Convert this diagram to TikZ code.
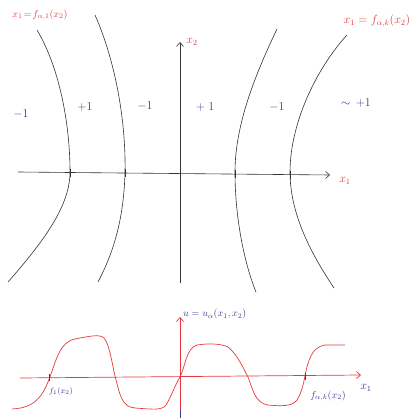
\documentclass[tikz,border=0pt]{standalone}
\usetikzlibrary{arrows.meta}
\definecolor{penred}{HTML}{E8383D}
\definecolor{penblue}{HTML}{3C3C8E}
\definecolor{pengray}{HTML}{333333}
\tikzset{
  blackline/.style={pengray, line width=0.6pt},
  redline/.style={penred, line width=0.7pt},
  redlbl/.style={penred, inner sep=0pt, font=\large},
  bluelbl/.style={penblue, inner sep=0pt, font=\large},
  tickmark/.style={penblue, line width=1pt},
  axarrow/.style={-{Straight Barb[length=4pt,width=7pt]}},
}
\begin{document}
\begin{tikzpicture}[x=1pt,y=-1pt]
\useasboundingbox (0,0) rectangle (416,419);
% ---------- upper diagram ----------
\draw[blackline] (37,30) .. controls (58,65) and (70,120) .. (70,172) .. controls (70,205) and (45,240) .. (8,282);
\draw[blackline] (95,15) .. controls (115,60) and (126,120) .. (125,172) .. controls (124,215) and (115,250) .. (98,282);
\draw[blackline] (277,29) .. controls (255,75) and (235,125) .. (235,172) .. controls (235,220) and (245,265) .. (256,292);
\draw[blackline] (347,35) .. controls (315,70) and (290,125) .. (290,172) .. controls (290,215) and (312,255) .. (334,288);
% axes
\coordinate (x1s) at (18,172);
\coordinate (x1e) at (330,175);
\coordinate (x2s) at (180,283);
\coordinate (x2e) at (180,42);
\draw[blackline,axarrow] (x1s) -- (x1e);
\draw[blackline,axarrow] (x2s) -- (x2e);
\node[redlbl] (lx1) at (345,181) {$x_1$};
\node[redlbl] (lx2) at (192,42) {$x_2$};
% ticks at crossings
\foreach \xx/\yy in {70/172.6,125/173.2,235/174.4,290/175.0}
  \draw[blackline,line width=0.9pt] (\xx,\yy-4) -- (\xx,\yy+4);
% region signs
\node[bluelbl] (r1) at (21,114) {$-1$};
\node[bluelbl] (r2) at (85,107) {$+1$};
\node[bluelbl] (r3) at (145,106) {$-1$};
\node[bluelbl] (r4) at (205,107) {$+\;1$};
\node[bluelbl] (r5) at (277,107) {$-1$};
\node[bluelbl] (r6) at (356,103) {$\sim\,+1$};
% top labels
\node[redlbl,font=\normalsize] (t1) at (40,15) {$x_1\!=\!f_{\alpha,1}(x_2)$};
\node[redlbl] (t2) at (377,21) {$x_1 = f_{\alpha,k}(x_2)$};
% ---------- lower diagram ----------
\coordinate (u1s) at (20,378);
\coordinate (u1e) at (361,375);
\coordinate (u2s) at (180,417);
\coordinate (u2e) at (180,317);
\draw[redline,axarrow] (u1s) -- (u1e);
\draw[redline,axarrow] (u2s) -- (u2e);
\draw[redline] (12,409) .. controls (38,408) and (44,392) .. (50,377)
  .. controls (56,360) and (60,342) .. (75,339)
  .. controls (90,336) and (100,334) .. (104,338)
  .. controls (110,345) and (112,365) .. (116,380)
  .. controls (120,395) and (122,407) .. (135,408)
  .. controls (150,409) and (162,411) .. (166,405)
  .. controls (172,395) and (175,385) .. (180,377)
  .. controls (185,368) and (186,348) .. (197,345)
  .. controls (210,343) and (222,344) .. (228,347)
  .. controls (238,355) and (243,368) .. (248,377)
  .. controls (253,390) and (255,403) .. (268,405)
  .. controls (280,406) and (292,407) .. (297,400)
  .. controls (302,392) and (303.5,383) .. (305,376)
  .. controls (308,360) and (312,347) .. (325,345)
  -- (345,345);
\draw[tickmark] (49,374) -- (49,381);
\draw[tickmark] (305,373) -- (305,380);
\draw[tickmark] (180,410) -- (180,418);
\node[bluelbl] (ux1) at (366,388) {$x_1$};
\node[bluelbl,font=\normalsize,anchor=west] (ulab) at (183,314) {$u = u_\alpha(x_1,x_2)$};
\node[bluelbl,font=\footnotesize] (f1) at (61,391) {$f_1(x_2)$};
\node[bluelbl,font=\normalsize] (fk) at (328,396) {$f_{\alpha,k}(x_2)$};
\end{tikzpicture}
\end{document}
